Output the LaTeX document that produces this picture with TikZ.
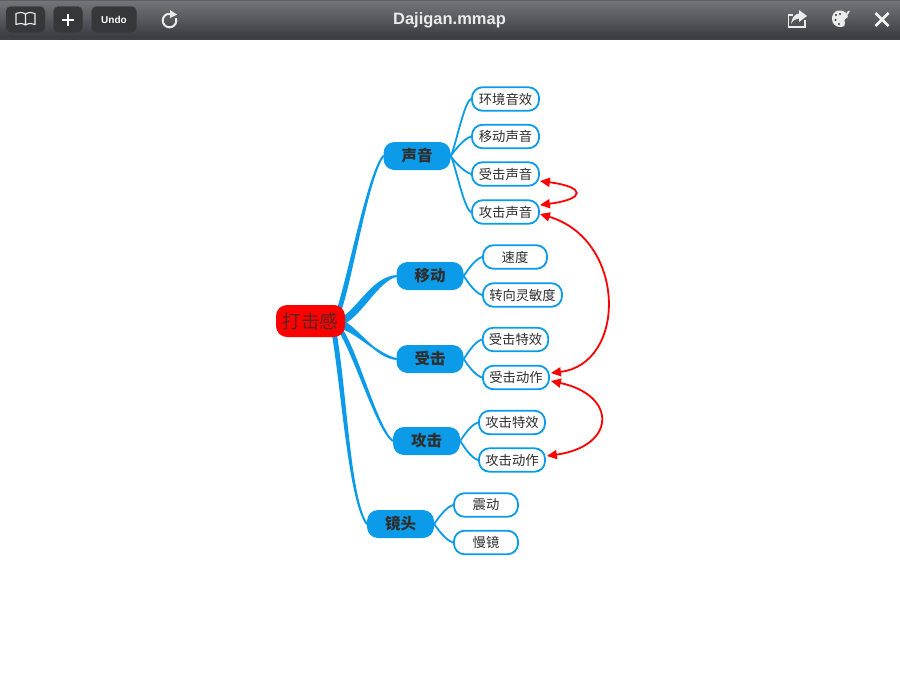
\documentclass[tikz,border=0pt]{standalone}
\usepackage{fontspec}
\setmainfont{Liberation Sans}
\newfontfamily\cjkf{Noto Sans CJK SC}
\usetikzlibrary{arrows.meta,backgrounds}
\definecolor{mapblue}{HTML}{0B9BE8}
\definecolor{txtdark}{HTML}{2E2E2E}
\definecolor{barA}{HTML}{74767B}
\definecolor{barB}{HTML}{383B40}
\definecolor{btn}{HTML}{35373B}
\tikzset{
  x=1pt,y=-1pt,
  rootbox/.style={fill=red,rounded corners=11pt,minimum width=69pt,minimum height=32pt,inner sep=0pt,font=\cjkf\fontsize{18.5}{19}\selectfont,text=txtdark!80!red},
  topic/.style={fill=mapblue,rounded corners=11pt,minimum width=67pt,minimum height=28pt,inner sep=0pt,font=\cjkf\bfseries\fontsize{15.5}{16}\selectfont,text=txtdark},
  leaf/.style={draw=mapblue,fill=white,line width=1.8pt,rounded corners=10.5pt,minimum height=23.5pt,inner sep=0pt,font=\cjkf\fontsize{13.3}{14}\selectfont,text=txtdark},
  branch/.style={draw=mapblue,line width=1.8pt,line cap=round},
  trunk/.style={fill=mapblue,draw=mapblue,line width=2pt,line join=round},
  relboth/.style={draw=red,line width=1.8pt,{Triangle[length=10pt,width=9pt]}-{Triangle[length=10pt,width=9pt]}},
  tbtn/.style={draw=black!75,fill=btn,rounded corners=5pt,inner sep=0pt},
  icon/.style={draw=white!92!black,line width=1.5pt},
}
\begin{document}
\begin{tikzpicture}
\useasboundingbox (0,0) rectangle (900,675);
% toolbar
\shade[top color=barA,bottom color=barB] (0,0) rectangle (900,38);
\fill[black!20!barA] (0,0) rectangle (900,1);
\fill[black!75] (0,38) rectangle (900,39.5);
\node[tbtn,minimum width=39pt,minimum height=26pt] (bookbtn) at (25.5,19.5) {};
\node[tbtn,minimum width=29pt,minimum height=26pt] (plusbtn) at (68,19.5) {};
\node[tbtn,minimum width=45pt,minimum height=26pt,text=white,font=\bfseries\fontsize{10}{10}\selectfont] (undobtn) at (114,19.5) {Undo};
\draw[white!92!black,line width=1.1pt,line join=round] (25.5,14) .. controls (22,12) and (19,12) .. (16,13.5) -- (16,24.5) .. controls (19,23) and (22,23) .. (25.5,25) .. controls (29,23) and (32,23) .. (35,24.5) -- (35,13.5) .. controls (32,12) and (29,12) .. (25.5,14) -- (25.5,25);
\draw[white,line width=2pt] (62,19.5) -- (74,19.5) (68,13.5) -- (68,25.5);
\draw[icon,line width=2pt] (169.5,20.5) ++(-20:6.8) arc (-20:285:6.8);
\fill[white!92!black] (170,10) -- (177,14.5) -- (170,18) -- cycle;
\node[text=white!92!black,font=\bfseries\fontsize{16.5}{16.5}\selectfont] (title) at (449.5,20) {Dajigan.mmap};
% share
\draw[icon,line width=1.3pt] (805,20) -- (805,27) -- (788.5,27) -- (788.5,15) -- (793,15);
\fill[white!92!black] (799,10) -- (807,16) -- (799,22) -- (799,18.5) .. controls (796,18.5) and (793,20) .. (791,24) .. controls (792,17) and (795,14) .. (799,13.5) -- cycle;
% palette
\fill[white!92!black] (840,10.5) .. controls (833,10.5) and (832,16) .. (832,19) .. controls (832,24) and (836,27) .. (840,27) .. controls (844,27) and (846,25) .. (845,22.5) .. controls (843,20) and (846,18) .. (848,17) .. controls (847,13) and (844,10.5) .. (840,10.5) -- cycle;
\draw[white!92!black,line width=1.8pt] (842,22) -- (849,11);
\fill[barB] (836,15) circle (1.2) (835.5,20) circle (1.2) (840,14) circle (1.1) (839,24) circle (1.1);
% close
\draw[white!95!black,line width=2.6pt] (875.5,13) -- (888.5,26) (888.5,13) -- (875.5,26);
% nodes
\node[rootbox] (root) at (310.5,321) {打击感};
\node[topic] (sound) at (417,156) {声音};
\node[topic] (move) at (430,276) {移动};
\node[topic] (hit) at (430,359) {受击};
\node[topic] (atk) at (426.5,441) {攻击};
\node[topic] (cam) at (400.5,524) {镜头};
\node[leaf,minimum width=67pt] (s1) at (505.5,99) {环境音效};
\node[leaf,minimum width=67pt] (s2) at (505.5,136.5) {移动声音};
\node[leaf,minimum width=67pt] (s3) at (505.5,174) {受击声音};
\node[leaf,minimum width=67pt] (s4) at (505.5,212) {攻击声音};
\node[leaf,minimum width=64pt] (m1) at (515,257) {速度};
\node[leaf,minimum width=79pt] (m2) at (522.5,295) {转向灵敏度};
\node[leaf,minimum width=65.5pt] (h1) at (515.5,339.5) {受击特效};
\node[leaf,minimum width=66pt] (h2) at (516,377.5) {受击动作};
\node[leaf,minimum width=66pt] (a1) at (512,422.5) {攻击特效};
\node[leaf,minimum width=66pt] (a2) at (512,460) {攻击动作};
\node[leaf,minimum width=64pt] (c1) at (486,505) {震动};
\node[leaf,minimum width=64pt] (c2) at (486,542.5) {慢镜};
% connectors behind the nodes
\begin{scope}[on background layer]
\fill[white] (0,40) rectangle (900,675);
\filldraw[trunk] ([shift={(-7,-13)}]root.east) .. controls +(12,-38) and +(-15,19) .. (sound.west) .. controls +(-15,19) and +(12,-38) .. ([shift={(-4,-13)}]root.east) -- cycle;
\filldraw[trunk] ([shift={(-1,-4)}]root.east) .. controls +(18,-14) and +(-22,2) .. (move.west) .. controls +(-18,4) and +(18,-10) .. ([shift={(-1,2)}]root.east) -- cycle;
\filldraw[trunk] ([shift={(-1,1)}]root.east) .. controls +(16,10) and +(-20,-2) .. (hit.west) .. controls +(-18,-4) and +(16,6) .. ([shift={(-1,8)}]root.east) -- cycle;
\filldraw[trunk] ([shift={(-5,11)}]root.east) .. controls +(16,27) and +(-15,-11) .. (atk.west) .. controls +(-15,-11) and +(16,27) .. ([shift={(-2,11)}]root.east) -- cycle;
\filldraw[trunk] ([shift={(-12,15)}]root.east) .. controls +(10,63) and +(-17,-24) .. (cam.west) .. controls +(-17,-24) and +(10,63) .. ([shift={(-9,15)}]root.east) -- cycle;
\foreach \p/\q/\s in {sound/s1/-1,sound/s2/-1,sound/s3/1,sound/s4/1,move/m1/-1,move/m2/1,hit/h1/-1,hit/h2/1,atk/a1/-1,atk/a2/1,cam/c1/-1,cam/c2/1}{
  \draw[branch] (\p.east) .. controls +(4,\s*6) and +(-7,\s*-2) .. (\q.west);
}
\end{scope}
% relations
\draw[relboth] ([shift={(0,7)}]s3.east) .. controls +(46,6) and +(46,-6) .. ([shift={(0,-7)}]s4.east);
\draw[relboth] ([shift={(0,2)}]s4.east) .. controls +(87,26) and +(76,-9) .. ([shift={(1,-4.5)}]h2.east);
\draw[relboth] ([shift={(1,3.5)}]h2.east) .. controls +(66,14) and +(70,-10) .. ([shift={(1,-4)}]a2.east);
\end{tikzpicture}
\end{document}
